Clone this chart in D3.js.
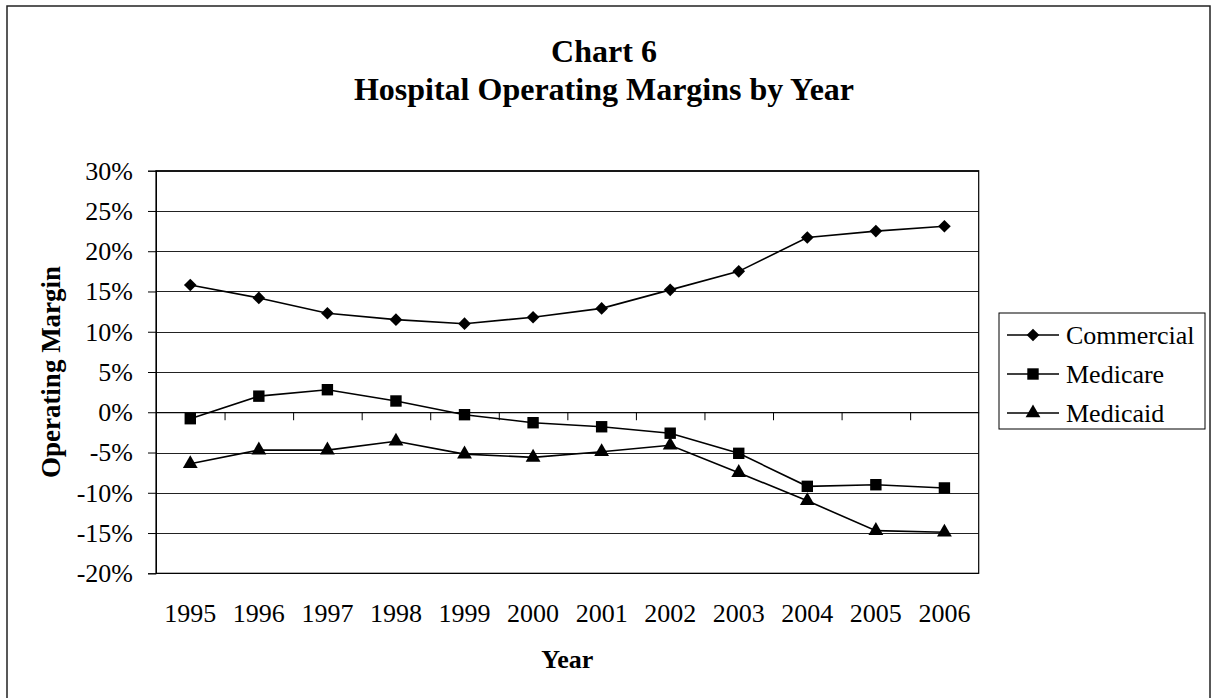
<!DOCTYPE html>
<html>
<head>
<meta charset="utf-8">
<script src="https://cdn.jsdelivr.net/npm/d3@7"></script>
<style>
  body { margin: 0; background: #fff; }
  text { font-family: "Liberation Serif", "Times New Roman", serif; fill: #000; }
</style>
</head>
<body>
<div id="chart"></div>
<script>
var years = [1995, 1996, 1997, 1998, 1999, 2000, 2001, 2002, 2003, 2004, 2005, 2006];
var commercial = [15.8, 14.2, 12.3, 11.5, 11.0, 11.8, 12.9, 15.2, 17.5, 21.7, 22.5, 23.1];
var medicare = [-0.8, 2.0, 2.8, 1.4, -0.3, -1.3, -1.8, -2.6, -5.1, -9.2, -9.0, -9.4];
var medicaid = [-6.4, -4.7, -4.7, -3.6, -5.2, -5.6, -4.9, -4.1, -7.5, -11.0, -14.7, -14.9];
var yTicks = [-20, -15, -10, -5, 0, 5, 10, 15, 20, 25, 30];

// diamond = square turned 45 degrees, like the Excel marker
var diamond = {
  draw: function(ctx, size) {
    var r = Math.sqrt(size) / 2;
    ctx.moveTo(0, -r); ctx.lineTo(r, 0); ctx.lineTo(0, r); ctx.lineTo(-r, 0); ctx.closePath();
  }
};

var series = [
  {name: "Commercial", values: commercial, symbol: diamond, size: 160},
  {name: "Medicare", values: medicare, symbol: d3.symbolSquare, size: 130},
  {name: "Medicaid", values: medicaid, symbol: d3.symbolTriangle, size: 95}
];

var width = 1214, height = 698;
var svg = d3.select("#chart").append("svg")
  .attr("width", width)
  .attr("height", height);

// outer chart frame
svg.append("rect")
  .attr("x", 7).attr("y", 6)
  .attr("width", 1203).attr("height", 720)
  .attr("fill", "none")
  .attr("stroke", "#222")
  .attr("stroke-width", 1.5);

var x = d3.scaleBand().domain(years).range([156, 978.7]);
var y = d3.scaleLinear().domain([-20, 30]).range([573.3, 170.7]);

// gridlines
svg.append("g")
  .selectAll("line")
  .data(yTicks)
  .enter()
  .append("line")
  .attr("x1", 156).attr("x2", 978.7)
  .attr("y1", function(d) { return Math.round(y(d)) + 0.5; })
  .attr("y2", function(d) { return Math.round(y(d)) + 0.5; })
  .attr("stroke", "#222")
  .attr("stroke-width", 1);

// plot border
svg.append("rect")
  .attr("x", 156).attr("y", y(30))
  .attr("width", 978.7 - 156).attr("height", y(-20) - y(30))
  .attr("fill", "none")
  .attr("stroke", "#000")
  .attr("stroke-width", 1.2);

// y axis
var yAxis = svg.append("g")
  .attr("transform", "translate(156,0)")
  .call(d3.axisLeft(y)
    .tickValues(yTicks)
    .tickSize(8)
    .tickPadding(15)
    .tickFormat(function(d) { return d + "%"; }));
yAxis.selectAll("text")
  .style("font-size", "26px")
  .style("font-family", "Liberation Serif");
yAxis.selectAll("line, path").attr("stroke", "#000");

// x axis at 0% with ticks between categories
var xb = d3.scaleLinear().domain([0, years.length]).range(x.range());
var xAxis = svg.append("g")
  .attr("transform", "translate(0," + y(0) + ")")
  .call(d3.axisBottom(xb)
    .tickValues(d3.range(1, years.length))
    .tickSize(8)
    .tickSizeOuter(0)
    .tickFormat(""));
xAxis.selectAll("line, path").attr("stroke", "#000");

// year labels at bottom
svg.append("g")
  .selectAll("text")
  .data(years)
  .enter()
  .append("text")
  .attr("x", function(d) { return x(d) + x.bandwidth() / 2; })
  .attr("y", 622)
  .attr("text-anchor", "middle")
  .style("font-size", "26px")
  .text(function(d) { return d; });

// lines and markers
var line = d3.line()
  .x(function(d, i) { return x(years[i]) + x.bandwidth() / 2; })
  .y(function(d) { return y(d); });

series.forEach(function(s) {
  svg.append("path")
    .datum(s.values)
    .attr("d", line)
    .attr("fill", "none")
    .attr("stroke", "#000")
    .attr("stroke-width", 1.6);

  svg.append("g")
    .selectAll("path")
    .data(s.values)
    .enter()
    .append("path")
    .attr("d", d3.symbol().type(s.symbol).size(s.size))
    .attr("transform", function(d, i) {
      return "translate(" + (x(years[i]) + x.bandwidth() / 2) + "," + y(d) + ")";
    })
    .attr("fill", "#000");
});

// titles
svg.append("text")
  .attr("x", 604).attr("y", 62)
  .attr("text-anchor", "middle")
  .style("font-size", "32px").style("font-weight", "bold")
  .text("Chart 6");
svg.append("text")
  .attr("x", 604).attr("y", 100)
  .attr("text-anchor", "middle")
  .style("font-size", "32px").style("font-weight", "bold")
  .text("Hospital Operating Margins by Year");

svg.append("text")
  .attr("x", 567.3).attr("y", 668)
  .attr("text-anchor", "middle")
  .style("font-size", "26px").style("font-weight", "bold")
  .text("Year");

svg.append("text")
  .attr("transform", "translate(60," + ((y(30) + y(-20)) / 2) + ") rotate(-90)")
  .attr("text-anchor", "middle")
  .style("font-size", "27px").style("font-weight", "bold")
  .text("Operating Margin");

// legend
var legend = svg.append("g").attr("transform", "translate(999,313)");
legend.append("rect")
  .attr("width", 206).attr("height", 116)
  .attr("fill", "#fff")
  .attr("stroke", "#000")
  .attr("stroke-width", 1);

var rows = legend.selectAll("g.row")
  .data(series)
  .enter()
  .append("g")
  .attr("class", "row")
  .attr("transform", function(d, i) { return "translate(0," + (22 + i * 39) + ")"; });
rows.append("line")
  .attr("x1", 8).attr("x2", 60)
  .attr("stroke", "#000").attr("stroke-width", 1.6);
rows.append("path")
  .attr("d", function(d) { return d3.symbol().type(d.symbol).size(d.size)(); })
  .attr("transform", "translate(34,0)")
  .attr("fill", "#000");
rows.append("text")
  .attr("x", 67).attr("y", 9)
  .style("font-size", "26px")
  .text(function(d) { return d.name; });
</script>
</body>
</html>
